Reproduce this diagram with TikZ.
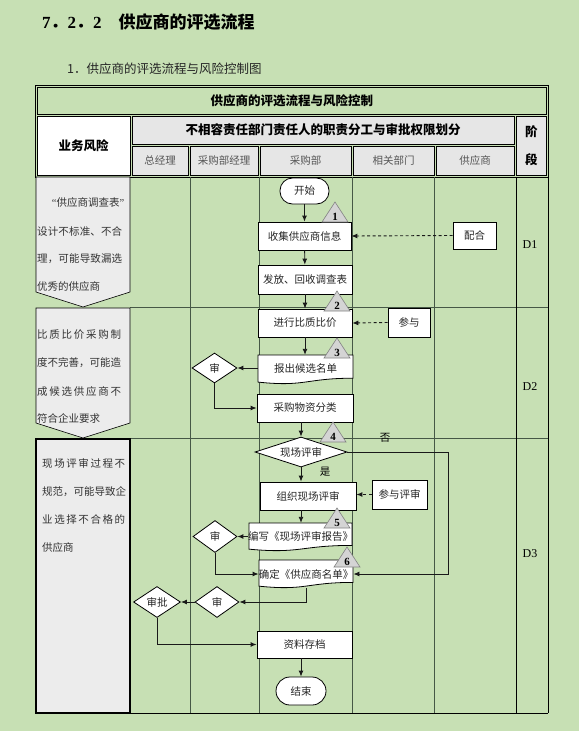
\documentclass[tikz,border=0pt]{standalone}
\usepackage{fontspec}
\setmainfont{Liberation Serif}
\newfontfamily\cjk{Noto Sans CJK SC}
\usetikzlibrary{shapes.geometric,arrows.meta}
\definecolor{bg}{RGB}{199,224,180}
\definecolor{cellgray}{RGB}{230,230,230}
\definecolor{riskgray}{RGB}{236,236,236}
\definecolor{gridc}{RGB}{70,88,70}
\definecolor{trifill}{RGB}{212,212,212}
\definecolor{tridraw}{RGB}{130,130,130}
\definecolor{subtxt}{RGB}{85,85,85}
\def\myspreadA#1{#1\myspreadB}
\def\myspreadB#1{\ifx\relax#1\else\hfil#1\expandafter\myspreadB\fi}
\newcommand\spreadline[2]{\makebox[#1][s]{\myspreadA#2\relax}}
\newcommand\ctrltri[4]{%
  \draw[tri] (#2,#3) -- ({#2+13},{#3+20}) -- ({#2-13},{#3+20}) -- cycle;
  \node[trinum] (#1) at ({#2},{#3+14.5}) {#4};}
\newcommand\docshape[4]{%
  \draw[docline] (#1,#2) -- (#3,#2) -- ({#3},{#2+0.80*#4}) .. controls ({(#1+#3)/2},{#2+0.80*#4}) and ({(#1+#3)/2},{#2+1.107*#4}) .. ({#1},{#2+0.934*#4}) -- cycle;}
\begin{document}
\begin{tikzpicture}[x=1pt,y=-1pt,
  arr/.style={draw=black!90, line width=0.9pt, -{Latex[length=6pt,width=5pt]}},
  dasharr/.style={arr, dash pattern=on 3pt off 2.5pt},
  procbox/.style={draw=black, line width=0.8pt, fill=white, inner sep=0pt, font=\cjk\fontsize{10.5}{12}\selectfont, text=black!85},
  term/.style={procbox, rounded corners=12.5pt},
  decis/.style={procbox, diamond},
  doctext/.style={inner sep=0pt, font=\cjk\fontsize{10.5}{12}\selectfont, text=black!85},
  docline/.style={draw=black, line width=0.8pt, fill=white},
  tri/.style={draw=tridraw, line width=0.6pt, fill=trifill},
  trinum/.style={inner sep=0pt, font=\bfseries\fontsize{11}{12}\selectfont},
  hdr/.style={draw=black, line width=0.6pt, fill=cellgray, inner sep=0pt},
  hdrbold/.style={font=\cjk\bfseries\fontsize{12.5}{14}\selectfont},
  subhdr/.style={hdr, font=\cjk\fontsize{10.5}{12}\selectfont, text=subtxt},
  risktext/.style={inner sep=0pt, anchor=west, font=\cjk\fontsize{10.5}{12}\selectfont, text=black!80},
  gridl/.style={draw=gridc, line width=0.6pt},
  blackl/.style={draw=black, line width=0.8pt},
  lbl/.style={inner sep=0pt, font=\cjk\fontsize{10.5}{12}\selectfont},
  stage/.style={inner sep=0pt, font=\fontsize{12}{14}\selectfont}]
\useasboundingbox (0,0) rectangle (579,731);
\fill[bg] (0,0) rectangle (579,731);
% titles
\node[anchor=west, inner sep=0pt, font=\bfseries\fontsize{17}{20}\selectfont] (title) at (42,22)
  {7{\cjk ．}2{\cjk ．}2\hspace{17pt}{\cjk\bfseries 供应商的评选流程}};
\node[anchor=west, inner sep=0pt, font=\cjk\fontsize{12.5}{14}\selectfont, text=black!85] (subtitle) at (67,69)
  {1．供应商的评选流程与风险控制图};
% header
\draw[black, line width=0.8pt] (35,85) rectangle (548.5,177);
\node[hdr, hdrbold, fill=bg, minimum width=509.5pt, minimum height=27pt] (tablehead) at (291.75,100.5) {供应商的评选流程与风险控制};
\node[hdr, hdrbold, fill=white, minimum width=93pt, minimum height=59pt] (riskhead) at (83.5,145.5) {业务风险};
\node[hdr, hdrbold, minimum width=382pt, minimum height=28pt] (dutyhead) at (323,130) {不相容责任部门责任人的职责分工与审批权限划分};
\node[subhdr, minimum width=56pt, minimum height=29pt] (h1) at (160,160.5) {总经理};
\node[subhdr, minimum width=68pt, minimum height=29pt] (h2) at (224,160.5) {采购部经理};
\node[subhdr, minimum width=91pt, minimum height=29pt] (h3) at (305.5,160.5) {采购部};
\node[subhdr, minimum width=81pt, minimum height=29pt] (h4) at (393.5,160.5) {相关部门};
\node[subhdr, minimum width=78pt, minimum height=29pt] (h5) at (475,160.5) {供应商};
\node[hdr, font=\cjk\bfseries\fontsize{12.5}{28}\selectfont, align=center, minimum width=30.5pt, minimum height=59pt] (stagehead) at (531.25,145.5) {阶\\段};
% body grid
\draw[gridl] (190,177) -- (190,713);
\draw[gridl] (259,177) -- (259,713);
\draw[gridl] (352,177) -- (352,713);
\draw[gridl] (434,177) -- (434,713);
\draw[gridl] (130,307) -- (548,307);
\draw[gridl] (130,438) -- (548,438);
\draw[blackl] (516,177) -- (516,713);
\draw[blackl] (548,177) -- (548,713);
\draw[blackl] (36,713) -- (548,713);
% risk cells
\draw[draw=black, line width=0.6pt, fill=riskgray] (36,177) -- (130,177) -- (130,292) -- (83,307) -- (36,292) -- cycle;
\draw[draw=black, line width=0.6pt, fill=riskgray] (36,308) -- (130,308) -- (130,423) -- (83,438) -- (36,423) -- cycle;
\draw[draw=black, line width=1.6pt, fill=riskgray] (36,439) rectangle (130,713);
\node[risktext, anchor=center] (r1a) at (88,203) {{\rmfamily “}供应商调查表{\rmfamily ”}};
\node[risktext] (r1b) at (37,232) {\spreadline{85pt}{设计不标准、不合}};
\node[risktext] (r1c) at (37,259) {\spreadline{85pt}{理，可能导致漏选}};
\node[risktext] (r1d) at (37,287) {优秀的供应商};
\node[risktext] (r2a) at (37,335) {\spreadline{84pt}{比质比价采购制}};
\node[risktext] (r2b) at (37,363) {\spreadline{84pt}{度不完善，可能造}};
\node[risktext] (r2c) at (37,391) {\spreadline{84pt}{成候选供应商不}};
\node[risktext] (r2d) at (37,418) {符合企业要求};
\node[risktext] (r3a) at (42,463) {\spreadline{83pt}{现场评审过程不}};
\node[risktext] (r3b) at (42,492) {\spreadline{83pt}{规范，可能导致企}};
\node[risktext] (r3c) at (42,519) {\spreadline{83pt}{业选择不合格的}};
\node[risktext] (r3d) at (42,547) {供应商};
% stages
\node[stage] (d1) at (530,245) {D1};
\node[stage] (d2) at (530,387) {D2};
\node[stage] (d3) at (530,554) {D3};
% flow nodes
\node[term, minimum width=49pt, minimum height=26pt] (start) at (304.5,191) {开始};
\node[procbox, minimum width=93pt, minimum height=28pt] (collect) at (304.5,236) {收集供应商信息};
\node[procbox, minimum width=43pt, minimum height=27pt] (cooperate) at (474.5,235.5) {配合};
\node[procbox, minimum width=94pt, minimum height=29pt] (survey) at (305,279.5) {发放、回收调查表};
\node[procbox, minimum width=94pt, minimum height=28pt] (compare) at (305,323) {进行比质比价};
\node[procbox, minimum width=42pt, minimum height=29pt] (join1) at (409,322.5) {参与};
\docshape{258}{355}{353}{29}
\node[doctext, minimum width=95pt, minimum height=26pt] (shortlist) at (305.5,368) {报出候选名单};
\node[decis, aspect=1, minimum width=45pt, minimum height=30pt] (aud1) at (214.5,368) {审};
\node[procbox, minimum width=96pt, minimum height=28pt] (classify) at (305,408) {采购物资分类};
\node[decis, aspect=4, minimum width=92pt, minimum height=30pt] (review) at (301,452) {现场评审};
\node[procbox, minimum width=96pt, minimum height=28pt] (organize) at (308,496) {组织现场评审};
\node[procbox, minimum width=55pt, minimum height=29pt] (join2) at (399.5,494.5) {参与评审};
\docshape{249}{523}{352}{28}
\node[doctext, minimum width=103pt, minimum height=27pt] (report) at (300.5,536.5) {编写《现场评审报告》};
\node[decis, aspect=1, minimum width=44pt, minimum height=32pt] (aud2) at (215,536.5) {审};
\docshape{259}{560}{353}{28}
\node[doctext, minimum width=94pt, minimum height=28pt] (confirm) at (306,574) {确定《供应商名单》};
\node[decis, aspect=1, minimum width=44pt, minimum height=31pt] (aud3) at (217,602) {审};
\node[decis, aspect=1.5, minimum width=47pt, minimum height=31pt] (approve) at (157,602) {审批};
\node[procbox, minimum width=95pt, minimum height=27pt] (archive) at (304.5,644.5) {资料存档};
\node[term, minimum width=50pt, minimum height=28pt, rounded corners=14pt] (finish) at (301,691) {结束};
\node[lbl] (yes) at (325,472) {是};
\node[lbl] (no) at (385,438) {否};
\coordinate (noturn) at (448,452);
% connectors
\draw[arr] (start) -- (collect);
\draw[arr] (collect) -- (survey);
\draw[arr] (survey) -- (compare);
\draw[arr] (compare) -- (compare.south |- shortlist.north);
\draw[dasharr] (cooperate.west) -- (collect.east);
\draw[dasharr] (join1.west) -- (compare.east);
\draw[arr] (shortlist.west) -- (aud1.east);
\draw[arr] (aud1.south) |- (classify.west);
\draw[arr] (review.north |- classify.south) -- (review.north);
\draw[arr] (review.south) -- (review.south |- organize.north);
\draw[dasharr] (join2.west) -- (join2.west -| organize.east);
\draw[arr] (review.south |- organize.south) -- (review.south |- report.north);
\draw[arr] (review.east) -- (noturn) |- (confirm.east);
\draw[arr] (report.west) -- (aud2.east);
\draw[arr] (aud2.south) |- (confirm.west);
\draw[arr] (confirm.south) |- (aud3.east);
\draw[arr] (aud3.west) -- (approve.east);
\draw[arr] (approve.south) |- (archive.west);
\draw[arr] (archive.south -| finish.north) -- (finish.north);
% control points
\ctrltri{t1}{335}{202}{1}
\ctrltri{t2}{337}{291}{2}
\ctrltri{t3}{337}{338}{3}
\ctrltri{t4}{333}{422}{4}
\ctrltri{t5}{337}{508}{5}
\ctrltri{t6}{347}{547}{6}
\end{tikzpicture}
\end{document}
